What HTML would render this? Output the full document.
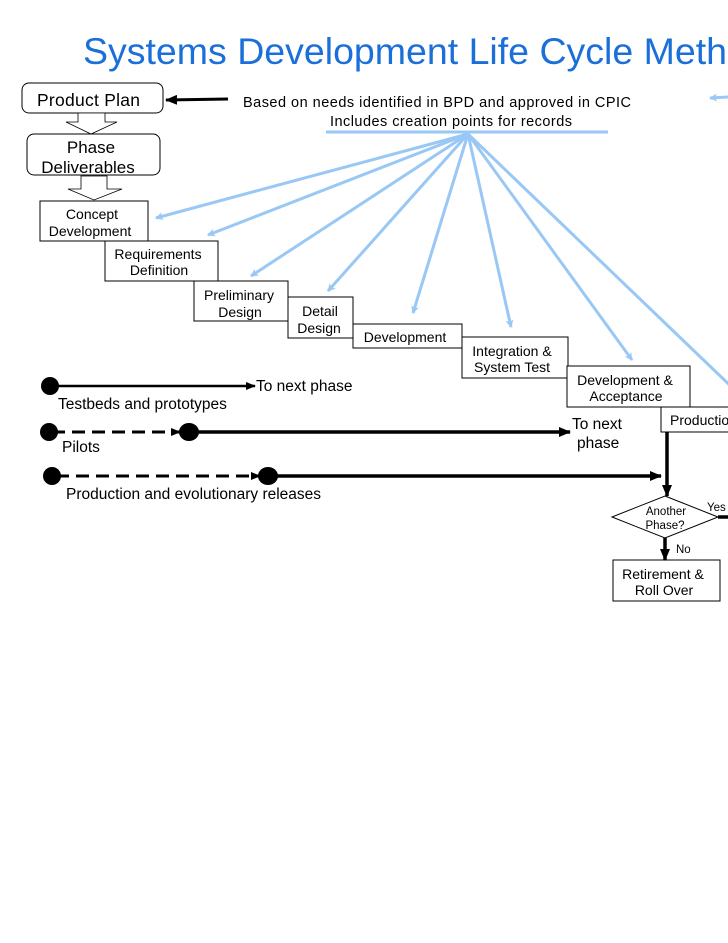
<!DOCTYPE html>
<html><head><meta charset="utf-8"><style>
html,body{margin:0;padding:0;background:#fff;}
svg{display:block;font-family:"Liberation Sans",sans-serif;}
</style></head><body>
<svg width="728" height="943" viewBox="0 0 728 943" xmlns="http://www.w3.org/2000/svg">
<defs>
<marker id="bl" markerWidth="8" markerHeight="8" refX="7" refY="4" orient="auto" markerUnits="userSpaceOnUse"><path d="M0,0 L8,4 L0,8 L2,4 Z" fill="#99c8f5"/></marker>
<marker id="bk" markerWidth="12" markerHeight="10" refX="11" refY="5" orient="auto" markerUnits="userSpaceOnUse"><path d="M0,0 L12,5 L0,10 Z" fill="#000"/></marker>
<marker id="bks" markerWidth="10" markerHeight="8" refX="9" refY="4" orient="auto" markerUnits="userSpaceOnUse"><path d="M0,0 L10,4 L0,8 Z" fill="#000"/></marker>
</defs>
<text x="83" y="64" font-size="37.5" fill="#1a6fd9">Systems Development Life Cycle Methodology</text>

<rect x="22" y="83" width="141" height="30" rx="7" fill="#fff" stroke="#000"/>
<text x="37" y="106" font-size="17.5" textLength="103">Product Plan</text>
<line x1="228" y1="99" x2="166" y2="100" stroke="#000" stroke-width="3" marker-end="url(#bk)"/>
<path d="M78,113 L105,113 L105,122 L117,122 L91,134 L66,122 L78,122 Z" fill="#fff" stroke="#000" stroke-width="0.8"/>
<rect x="27" y="134" width="133" height="41" rx="7" fill="#fff" stroke="#000"/>
<text x="91" y="153" font-size="17" text-anchor="middle">Phase</text>
<text x="88" y="173" font-size="17" text-anchor="middle">Deliverables</text>
<path d="M81,176 L107,176 L107,189 L122,189 L94,200 L68,189 L81,189 Z" fill="#fff" stroke="#000" stroke-width="0.8"/>

<g font-size="14.5" fill="#000" stroke="none">
<text x="243" y="107" textLength="388">Based on needs identified in BPD and approved in CPIC</text>
<text x="330" y="126" textLength="242">Includes creation points for records</text>
</g>
<g stroke="#99c8f5" stroke-width="3" fill="none">
<line x1="326" y1="132" x2="608" y2="132"/>
<line x1="728" y1="97" x2="710" y2="98" marker-end="url(#bl)"/>
<line x1="468" y1="134" x2="156" y2="218" marker-end="url(#bl)"/>
<line x1="468" y1="134" x2="208" y2="235" marker-end="url(#bl)"/>
<line x1="468" y1="134" x2="251" y2="276" marker-end="url(#bl)"/>
<line x1="468" y1="134" x2="328" y2="291" marker-end="url(#bl)"/>
<line x1="468" y1="134" x2="413" y2="313" marker-end="url(#bl)"/>
<line x1="468" y1="134" x2="511" y2="327" marker-end="url(#bl)"/>
<line x1="468" y1="134" x2="632" y2="360" marker-end="url(#bl)"/>
<line x1="468" y1="134" x2="740" y2="395"/>
</g>

<g fill="#fff" stroke="#000" stroke-width="1">
<rect x="40" y="201" width="108" height="40"/>
<rect x="105" y="241" width="113" height="40"/>
<rect x="194" y="281" width="94" height="40"/>
<rect x="288" y="297" width="65" height="41"/>
<rect x="353" y="324" width="109" height="24"/>
<rect x="462" y="337" width="106" height="41"/>
<rect x="567" y="366" width="123" height="41"/>
<rect x="661" y="407" width="80" height="25"/>
<rect x="613" y="560" width="107" height="41"/>
<path d="M665,496 L718,517 L665,538 L612,517 Z"/>
</g>
<g font-size="14" text-anchor="middle">
<text x="92" y="219">Concept</text><text x="90" y="236">Development</text>
<text x="158" y="259">Requirements</text><text x="159" y="275">Definition</text>
<text x="239" y="300">Preliminary</text><text x="240" y="317">Design</text>
<text x="320" y="316">Detail</text><text x="319" y="333">Design</text>
<text x="405" y="342">Development</text>
<text x="512" y="356">Integration &amp;</text><text x="512" y="372">System Test</text>
<text x="625" y="385">Development &amp;</text><text x="626" y="401">Acceptance</text>
<text x="670" y="425" text-anchor="start">Production</text>
<text x="663" y="579">Retirement &amp;</text><text x="664" y="595">Roll Over</text>
</g>
<g font-size="11.5">
<text x="666" y="515" text-anchor="middle">Another</text>
<text x="665" y="529" text-anchor="middle">Phase?</text>
<text x="707" y="511">Yes</text>
<text x="676" y="553">No</text>
</g>

<g stroke="#000" fill="none">
<line x1="50" y1="386" x2="255" y2="386" stroke-width="2.5" marker-end="url(#bks)"/>
<line x1="52" y1="432" x2="180" y2="432" stroke-width="3" stroke-dasharray="13,7" marker-end="url(#bks)"/>
<line x1="190" y1="432" x2="570" y2="432" stroke-width="3.5" marker-end="url(#bk)"/>
<line x1="56" y1="476" x2="260" y2="476" stroke-width="3" stroke-dasharray="13,7" marker-end="url(#bks)"/>
<line x1="268" y1="476" x2="661" y2="476" stroke-width="3.5" marker-end="url(#bk)"/>
<line x1="667" y1="432" x2="667" y2="496" stroke-width="3.5" marker-end="url(#bk)"/>
<line x1="665" y1="538" x2="665" y2="560" stroke-width="3.5" marker-end="url(#bk)"/>
<line x1="718" y1="517" x2="728" y2="517" stroke-width="3.5"/>
</g>
<g fill="#000">
<ellipse cx="50" cy="386" rx="9" ry="9"/>
<ellipse cx="49" cy="432" rx="9" ry="9"/>
<ellipse cx="189" cy="432" rx="10" ry="9"/>
<ellipse cx="52" cy="476" rx="9" ry="9"/>
<ellipse cx="268" cy="476" rx="10" ry="9"/>
</g>
<g font-size="15.5">
<text x="256" y="391">To next phase</text>
<text x="58" y="409">Testbeds and prototypes</text>
<text x="62" y="452">Pilots</text>
<text x="66" y="499">Production and evolutionary releases</text>
<text x="572" y="429">To next</text>
<text x="577" y="448">phase</text>
</g>
</svg>
</body></html>
